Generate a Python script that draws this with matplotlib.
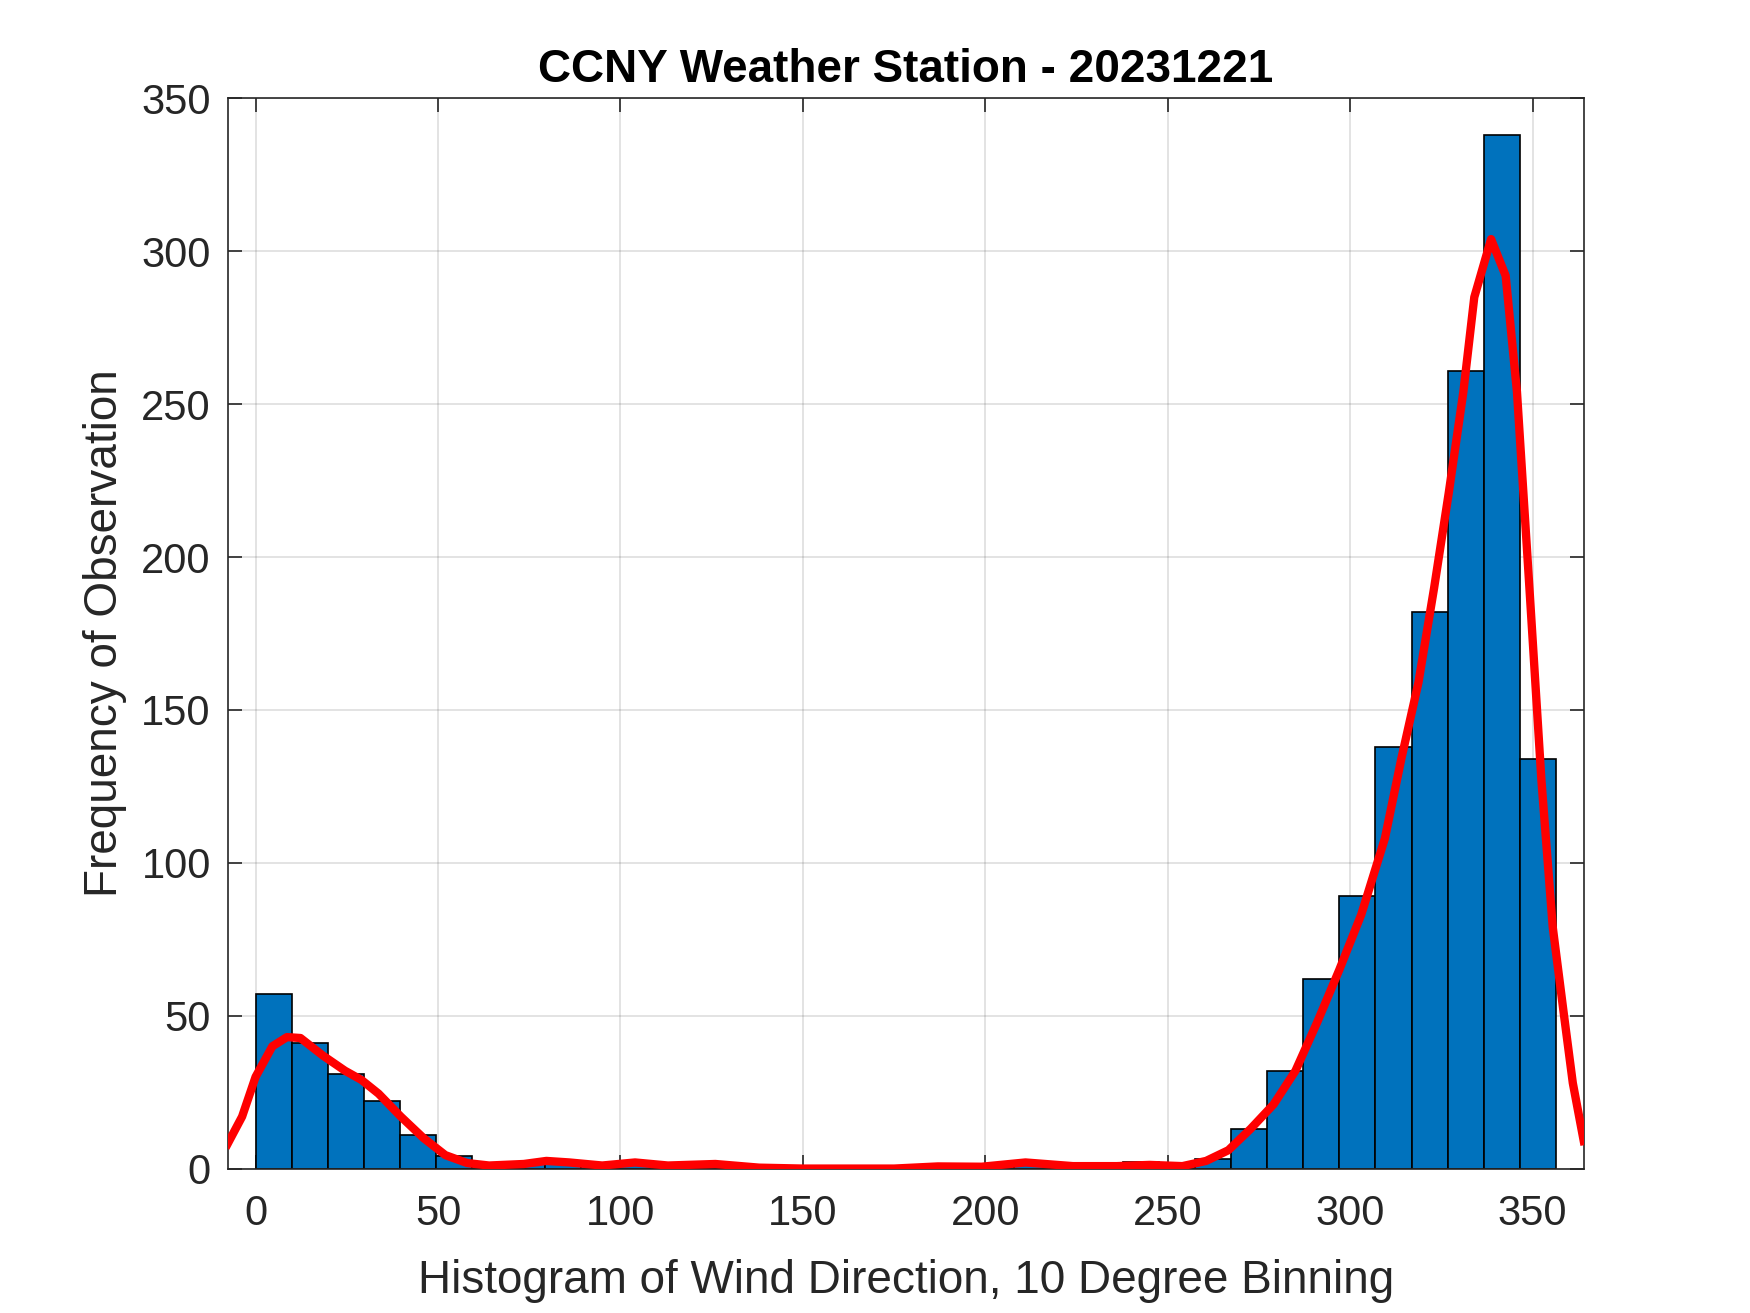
import numpy as np
import matplotlib.pyplot as plt

plt.rcParams['font.family'] = ['Liberation Sans', 'DejaVu Sans']

# histogram of wind direction, 36 bins over the data range
bin_width = 9.9
counts = [57, 41, 31, 22, 11, 4, 1, 2, 2, 1,
          2, 1, 1, 1, 0, 0, 0, 0, 0, 0,
          1, 2, 1, 1, 2, 1, 3, 13, 32, 62,
          89, 138, 182, 261, 338, 134]
bin_left = np.arange(len(counts)) * bin_width

# smoothed density overlay (scaled to counts)
curve_x = [-7.7, -3.7, 0, 4.6, 8.6, 12.3, 18.4, 24.5, 29, 33.7, 39.8, 46, 52, 58,
           64, 73.5, 79.7, 86, 95, 104, 113, 126, 138, 150, 175, 187, 199, 211,
           224, 236, 245, 254, 260.5, 266.6, 272.7, 279, 285, 291, 297, 303,
           309.5, 314, 318.7, 323, 327, 331, 334, 338.6, 342.6, 345.7, 349,
           352.4, 355.5, 358.6, 361, 364]
curve_y = [8, 17, 30, 40, 43, 42.7, 37, 32, 29, 24.5, 17, 10, 4.4, 1.8,
           1, 1.5, 2.5, 2, 1, 2, 1, 1.5, 0.3, 0, 0, 0.7, 0.6, 2,
           0.8, 0.8, 1.2, 0.8, 2.5, 6, 13, 21, 32, 48, 65, 83,
           108, 134, 159, 190, 221, 254, 285, 304, 292, 254, 192,
           127, 79, 50, 28, 9]

dark = (0.15, 0.15, 0.15)

fig = plt.figure(figsize=(17.5, 13.13), dpi=100)
ax = fig.add_axes([0.13, 0.11, 0.775, 0.815])

ax.bar(bin_left, counts, width=bin_width, align='edge', color='#0072BD',
       edgecolor='black', linewidth=1.2, zorder=2)
ax.plot(curve_x, curve_y, color='red', linewidth=6, zorder=3)

ax.set_xlim(min(curve_x), max(curve_x))
ax.set_ylim(0, 350)
ax.set_xticks(range(0, 351, 50))
ax.set_yticks(range(0, 351, 50))
ax.grid(True, color=(0.15, 0.15, 0.15), alpha=0.15, linewidth=1.2, zorder=0)
ax.set_axisbelow(True)
ax.tick_params(direction='in', length=10, width=1.2, colors=dark,
               labelsize=30, top=True, right=True)
ax.tick_params(axis='x', pad=18)
ax.tick_params(axis='y', pad=12)
for sp in ax.spines.values():
    sp.set_color(dark)
    sp.set_linewidth(1.2)

ax.set_xlabel('Histogram of Wind Direction, 10 Degree Binning', fontsize=33,
              color=dark, labelpad=18)
ax.set_ylabel('Frequency of Observation', fontsize=33, color=dark, labelpad=10)
ax.set_title('CCNY Weather Station - 20231221', fontsize=33, fontweight='bold',
             color='black', pad=12)

fig.savefig('out.png', dpi=100)
